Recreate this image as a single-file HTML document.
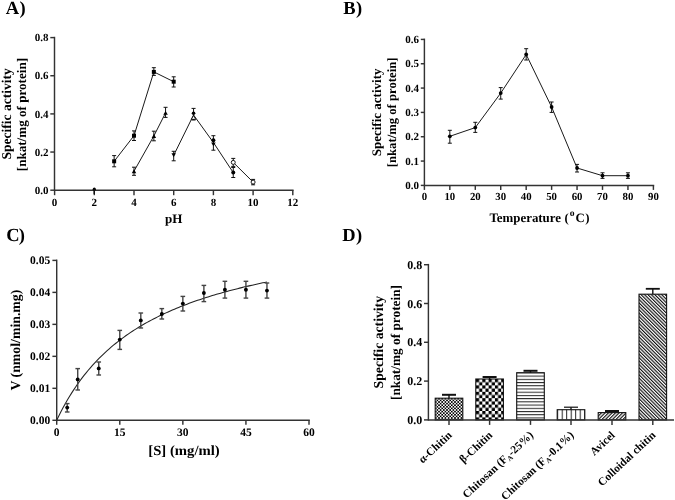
<!DOCTYPE html>
<html><head><meta charset="utf-8"><style>
html,body{margin:0;padding:0;background:#fff;}
svg{display:block;filter:grayscale(1);}
text{font-family:"Liberation Serif", serif;fill:#000;text-rendering:geometricPrecision;}
</style></head><body>
<svg width="675" height="500" viewBox="0 0 675 500">
<rect width="675" height="500" fill="#fff"/>
<defs>
<pattern id="p1" patternUnits="userSpaceOnUse" width="3.2" height="3.2" x="435" y="398"><rect width="3.2" height="3.2" fill="#fff"/><rect width="1.6" height="1.6" fill="#000"/><rect x="1.6" y="1.6" width="1.6" height="1.6" fill="#000"/></pattern>
<pattern id="p2" patternUnits="userSpaceOnUse" width="6.3" height="6.4" x="476" y="379"><rect width="6.3" height="6.4" fill="#fff"/><rect width="3.15" height="3.2" fill="#000"/><rect x="3.15" y="3.2" width="3.15" height="3.2" fill="#000"/></pattern>
<pattern id="p3" patternUnits="userSpaceOnUse" width="4" height="3.22" x="0" y="375.6"><rect width="4" height="3.22" fill="#fff"/><rect y="0" width="4" height="1" fill="#222"/></pattern>
<pattern id="p4" patternUnits="userSpaceOnUse" width="4.5" height="4" x="557.2" y="0"><rect width="4.5" height="4" fill="#fff"/><rect x="0" width="1" height="4" fill="#222"/></pattern>
<pattern id="p5" patternUnits="userSpaceOnUse" width="2.48" height="2.48" patternTransform="rotate(45)"><rect width="2.48" height="2.48" fill="#fff"/><rect width="1.15" height="2.48" fill="#111"/></pattern>
<pattern id="p6" patternUnits="userSpaceOnUse" width="2.42" height="2.42" patternTransform="rotate(-45)"><rect width="2.42" height="2.42" fill="#fff"/><rect width="1.15" height="2.42" fill="#111"/></pattern>
</defs>
<text x="5.8" y="13.9" font-size="18.5" font-weight="bold">A<tspan dx="0.3">)</tspan></text>
<text x="343.2" y="13.7" font-size="18.5" font-weight="bold">B<tspan dx="0.5">)</tspan></text>
<text x="6.2" y="241.2" font-size="18.5" font-weight="bold">C<tspan dx="-0.9">)</tspan></text>
<text x="342.2" y="240.8" font-size="18.5" font-weight="bold">D<tspan dx="0.4">)</tspan></text>
<line x1="54.50" y1="36.80" x2="54.50" y2="191.00" stroke="#333" stroke-width="1.45" />
<line x1="54.50" y1="190.20" x2="293.60" y2="190.20" stroke="#333" stroke-width="1.45" />
<line x1="54.60" y1="190.20" x2="54.60" y2="195.20" stroke="#333" stroke-width="1.45" />
<text x="54.60" y="206.20" font-size="11" text-anchor="middle" font-weight="bold" >0</text>
<line x1="94.30" y1="190.20" x2="94.30" y2="195.20" stroke="#333" stroke-width="1.45" />
<text x="94.30" y="206.20" font-size="11" text-anchor="middle" font-weight="bold" >2</text>
<line x1="134.00" y1="190.20" x2="134.00" y2="195.20" stroke="#333" stroke-width="1.45" />
<text x="134.00" y="206.20" font-size="11" text-anchor="middle" font-weight="bold" >4</text>
<line x1="173.70" y1="190.20" x2="173.70" y2="195.20" stroke="#333" stroke-width="1.45" />
<text x="173.70" y="206.20" font-size="11" text-anchor="middle" font-weight="bold" >6</text>
<line x1="213.40" y1="190.20" x2="213.40" y2="195.20" stroke="#333" stroke-width="1.45" />
<text x="213.40" y="206.20" font-size="11" text-anchor="middle" font-weight="bold" >8</text>
<line x1="253.10" y1="190.20" x2="253.10" y2="195.20" stroke="#333" stroke-width="1.45" />
<text x="253.10" y="206.20" font-size="11" text-anchor="middle" font-weight="bold" >10</text>
<line x1="292.80" y1="190.20" x2="292.80" y2="195.20" stroke="#333" stroke-width="1.45" />
<text x="292.80" y="206.20" font-size="11" text-anchor="middle" font-weight="bold" >12</text>
<line x1="50.30" y1="190.20" x2="54.50" y2="190.20" stroke="#333" stroke-width="1.45" />
<text x="48.50" y="193.90" font-size="11" text-anchor="end" font-weight="bold" >0.0</text>
<line x1="50.30" y1="152.05" x2="54.50" y2="152.05" stroke="#333" stroke-width="1.45" />
<text x="48.50" y="155.75" font-size="11" text-anchor="end" font-weight="bold" >0.2</text>
<line x1="50.30" y1="113.90" x2="54.50" y2="113.90" stroke="#333" stroke-width="1.45" />
<text x="48.50" y="117.60" font-size="11" text-anchor="end" font-weight="bold" >0.4</text>
<line x1="50.30" y1="75.75" x2="54.50" y2="75.75" stroke="#333" stroke-width="1.45" />
<text x="48.50" y="79.45" font-size="11" text-anchor="end" font-weight="bold" >0.6</text>
<line x1="50.30" y1="37.60" x2="54.50" y2="37.60" stroke="#333" stroke-width="1.45" />
<text x="48.50" y="41.30" font-size="11" text-anchor="end" font-weight="bold" >0.8</text>
<text x="173.70" y="222.60" font-size="13" text-anchor="middle" font-weight="bold" >pH</text>
<g transform="translate(10.9,113.9) scale(1.0,1) rotate(-90)"><text x="0" y="0" font-size="13.5" text-anchor="middle" font-weight="bold">Specific activity</text></g>
<g transform="translate(26.4,114.6) scale(1.0,1) rotate(-90)"><text x="0" y="0" font-size="13.1" text-anchor="middle" font-weight="bold">[nkat/mg of protein]</text></g>
<polyline fill="none" stroke="#1a1a1a" stroke-width="1" points="114.15,161.30 134.00,135.70 153.85,71.90 173.70,81.70"/>
<line x1="114.15" y1="155.60" x2="114.15" y2="166.80" stroke="#111" stroke-width="1" />
<line x1="112.15" y1="155.60" x2="116.15" y2="155.60" stroke="#111" stroke-width="1" />
<line x1="112.15" y1="166.80" x2="116.15" y2="166.80" stroke="#111" stroke-width="1" />
<rect x="112.15" y="159.30" width="4" height="4" fill="#000"/>
<line x1="134.00" y1="130.90" x2="134.00" y2="140.50" stroke="#111" stroke-width="1" />
<line x1="132.00" y1="130.90" x2="136.00" y2="130.90" stroke="#111" stroke-width="1" />
<line x1="132.00" y1="140.50" x2="136.00" y2="140.50" stroke="#111" stroke-width="1" />
<rect x="132.00" y="133.70" width="4" height="4" fill="#000"/>
<line x1="153.85" y1="67.70" x2="153.85" y2="75.40" stroke="#111" stroke-width="1" />
<line x1="151.85" y1="67.70" x2="155.85" y2="67.70" stroke="#111" stroke-width="1" />
<line x1="151.85" y1="75.40" x2="155.85" y2="75.40" stroke="#111" stroke-width="1" />
<rect x="151.85" y="69.90" width="4" height="4" fill="#000"/>
<line x1="173.70" y1="76.80" x2="173.70" y2="87.00" stroke="#111" stroke-width="1" />
<line x1="171.70" y1="76.80" x2="175.70" y2="76.80" stroke="#111" stroke-width="1" />
<line x1="171.70" y1="87.00" x2="175.70" y2="87.00" stroke="#111" stroke-width="1" />
<rect x="171.70" y="79.70" width="4" height="4" fill="#000"/>
<polyline fill="none" stroke="#1a1a1a" stroke-width="1" points="134.00,171.20 153.85,136.00 165.56,112.90"/>
<line x1="134.00" y1="167.20" x2="134.00" y2="175.30" stroke="#111" stroke-width="1" />
<line x1="132.00" y1="167.20" x2="136.00" y2="167.20" stroke="#111" stroke-width="1" />
<line x1="132.00" y1="175.30" x2="136.00" y2="175.30" stroke="#111" stroke-width="1" />
<polygon points="131.75,173.16 136.25,173.16 134.00,169.24" fill="#000" />
<line x1="153.85" y1="131.20" x2="153.85" y2="140.80" stroke="#111" stroke-width="1" />
<line x1="151.85" y1="131.20" x2="155.85" y2="131.20" stroke="#111" stroke-width="1" />
<line x1="151.85" y1="140.80" x2="155.85" y2="140.80" stroke="#111" stroke-width="1" />
<polygon points="151.60,137.96 156.10,137.96 153.85,134.04" fill="#000" />
<line x1="165.56" y1="107.30" x2="165.56" y2="117.40" stroke="#111" stroke-width="1" />
<line x1="163.56" y1="107.30" x2="167.56" y2="107.30" stroke="#111" stroke-width="1" />
<line x1="163.56" y1="117.40" x2="167.56" y2="117.40" stroke="#111" stroke-width="1" />
<polygon points="163.31,114.86 167.81,114.86 165.56,110.94" fill="#000" />
<polyline fill="none" stroke="#1a1a1a" stroke-width="1" points="173.70,155.30 193.55,115.00 213.40,142.50 233.25,172.60"/>
<line x1="173.70" y1="151.30" x2="173.70" y2="160.80" stroke="#111" stroke-width="1" />
<line x1="171.70" y1="151.30" x2="175.70" y2="151.30" stroke="#111" stroke-width="1" />
<line x1="171.70" y1="160.80" x2="175.70" y2="160.80" stroke="#111" stroke-width="1" />
<line x1="193.55" y1="108.40" x2="193.55" y2="120.00" stroke="#111" stroke-width="1" />
<line x1="191.55" y1="108.40" x2="195.55" y2="108.40" stroke="#111" stroke-width="1" />
<line x1="191.55" y1="120.00" x2="195.55" y2="120.00" stroke="#111" stroke-width="1" />
<line x1="213.40" y1="135.70" x2="213.40" y2="150.20" stroke="#111" stroke-width="1" />
<line x1="211.40" y1="135.70" x2="215.40" y2="135.70" stroke="#111" stroke-width="1" />
<line x1="211.40" y1="150.20" x2="215.40" y2="150.20" stroke="#111" stroke-width="1" />
<line x1="233.25" y1="167.50" x2="233.25" y2="177.50" stroke="#111" stroke-width="1" />
<line x1="231.25" y1="167.50" x2="235.25" y2="167.50" stroke="#111" stroke-width="1" />
<line x1="231.25" y1="177.50" x2="235.25" y2="177.50" stroke="#111" stroke-width="1" />
<polygon points="171.45,153.34 175.95,153.34 173.70,157.26" fill="#000" />
<circle cx="193.55" cy="113.20" r="1.8" fill="#000"/>
<polygon points="191.30,119.36 195.80,119.36 193.55,115.44" fill="#fff" stroke="#000" stroke-width="0.9"/>
<circle cx="213.40" cy="140.20" r="2" fill="#000"/>
<polygon points="211.15,142.44 215.65,142.44 213.40,146.36" fill="#000" />
<circle cx="233.25" cy="172.60" r="2" fill="#000"/>
<polyline fill="none" stroke="#1a1a1a" stroke-width="1" points="233.25,162.40 253.10,182.10"/>
<line x1="233.25" y1="158.40" x2="233.25" y2="166.40" stroke="#111" stroke-width="1" />
<line x1="231.25" y1="158.40" x2="235.25" y2="158.40" stroke="#111" stroke-width="1" />
<line x1="231.25" y1="166.40" x2="235.25" y2="166.40" stroke="#111" stroke-width="1" />
<circle cx="233.25" cy="162.40" r="2" fill="#fff" stroke="#000" stroke-width="0.9"/>
<line x1="253.10" y1="179.40" x2="253.10" y2="184.80" stroke="#111" stroke-width="1" />
<line x1="251.10" y1="179.40" x2="255.10" y2="179.40" stroke="#111" stroke-width="1" />
<line x1="251.10" y1="184.80" x2="255.10" y2="184.80" stroke="#111" stroke-width="1" />
<circle cx="253.10" cy="182.10" r="2" fill="#fff" stroke="#000" stroke-width="0.9"/>
<circle cx="94.30" cy="189.20" r="1.6" fill="#000"/>
<line x1="94.30" y1="189.20" x2="94.30" y2="194.00" stroke="#111" stroke-width="1.4" />
<line x1="424.40" y1="38.62" x2="424.40" y2="186.20" stroke="#333" stroke-width="1.45" />
<line x1="424.40" y1="185.40" x2="654.20" y2="185.40" stroke="#333" stroke-width="1.45" />
<line x1="424.40" y1="185.40" x2="424.40" y2="189.90" stroke="#333" stroke-width="1.45" />
<text x="424.40" y="200.30" font-size="10.8" text-anchor="middle" font-weight="bold" >0</text>
<line x1="449.84" y1="185.40" x2="449.84" y2="189.90" stroke="#333" stroke-width="1.45" />
<text x="449.84" y="200.30" font-size="10.8" text-anchor="middle" font-weight="bold" >10</text>
<line x1="475.29" y1="185.40" x2="475.29" y2="189.90" stroke="#333" stroke-width="1.45" />
<text x="475.29" y="200.30" font-size="10.8" text-anchor="middle" font-weight="bold" >20</text>
<line x1="500.73" y1="185.40" x2="500.73" y2="189.90" stroke="#333" stroke-width="1.45" />
<text x="500.73" y="200.30" font-size="10.8" text-anchor="middle" font-weight="bold" >30</text>
<line x1="526.18" y1="185.40" x2="526.18" y2="189.90" stroke="#333" stroke-width="1.45" />
<text x="526.18" y="200.30" font-size="10.8" text-anchor="middle" font-weight="bold" >40</text>
<line x1="551.62" y1="185.40" x2="551.62" y2="189.90" stroke="#333" stroke-width="1.45" />
<text x="551.62" y="200.30" font-size="10.8" text-anchor="middle" font-weight="bold" >50</text>
<line x1="577.06" y1="185.40" x2="577.06" y2="189.90" stroke="#333" stroke-width="1.45" />
<text x="577.06" y="200.30" font-size="10.8" text-anchor="middle" font-weight="bold" >60</text>
<line x1="602.51" y1="185.40" x2="602.51" y2="189.90" stroke="#333" stroke-width="1.45" />
<text x="602.51" y="200.30" font-size="10.8" text-anchor="middle" font-weight="bold" >70</text>
<line x1="627.95" y1="185.40" x2="627.95" y2="189.90" stroke="#333" stroke-width="1.45" />
<text x="627.95" y="200.30" font-size="10.8" text-anchor="middle" font-weight="bold" >80</text>
<line x1="653.40" y1="185.40" x2="653.40" y2="189.90" stroke="#333" stroke-width="1.45" />
<text x="653.40" y="200.30" font-size="10.8" text-anchor="middle" font-weight="bold" >90</text>
<line x1="420.80" y1="185.40" x2="424.40" y2="185.40" stroke="#333" stroke-width="1.45" />
<text x="418.90" y="189.00" font-size="11" text-anchor="end" font-weight="bold" >0.0</text>
<line x1="420.80" y1="161.07" x2="424.40" y2="161.07" stroke="#333" stroke-width="1.45" />
<text x="418.90" y="164.67" font-size="11" text-anchor="end" font-weight="bold" >0.1</text>
<line x1="420.80" y1="136.74" x2="424.40" y2="136.74" stroke="#333" stroke-width="1.45" />
<text x="418.90" y="140.34" font-size="11" text-anchor="end" font-weight="bold" >0.2</text>
<line x1="420.80" y1="112.41" x2="424.40" y2="112.41" stroke="#333" stroke-width="1.45" />
<text x="418.90" y="116.01" font-size="11" text-anchor="end" font-weight="bold" >0.3</text>
<line x1="420.80" y1="88.08" x2="424.40" y2="88.08" stroke="#333" stroke-width="1.45" />
<text x="418.90" y="91.68" font-size="11" text-anchor="end" font-weight="bold" >0.4</text>
<line x1="420.80" y1="63.75" x2="424.40" y2="63.75" stroke="#333" stroke-width="1.45" />
<text x="418.90" y="67.35" font-size="11" text-anchor="end" font-weight="bold" >0.5</text>
<line x1="420.80" y1="39.42" x2="424.40" y2="39.42" stroke="#333" stroke-width="1.45" />
<text x="418.90" y="43.02" font-size="11" text-anchor="end" font-weight="bold" >0.6</text>
<text x="489.4" y="222.2" font-size="12.9" font-weight="bold">Temperature</text>
<text x="564.6" y="222.4" font-size="12.8" font-weight="bold">(</text>
<text x="569.7" y="216.0" font-size="9.6" font-weight="bold">o</text>
<text x="575.6" y="222.2" font-size="12.8" font-weight="bold" letter-spacing="0.4">C)</text>
<g transform="translate(380.7,112.4) scale(1.0,1) rotate(-90)"><text x="0" y="0" font-size="13.0" text-anchor="middle" font-weight="bold">Specific activity</text></g>
<g transform="translate(396.2,112.4) scale(1.0,1) rotate(-90)"><text x="0" y="0" font-size="12.7" text-anchor="middle" font-weight="bold">[nkat/mg of protein]</text></g>
<polyline fill="none" stroke="#1a1a1a" stroke-width="1" points="449.84,136.30 475.29,127.60 500.73,93.10 526.18,54.50 551.62,107.00 577.06,168.00 602.51,175.70 627.95,175.70"/>
<line x1="449.84" y1="130.30" x2="449.84" y2="143.20" stroke="#111" stroke-width="1" />
<line x1="447.84" y1="130.30" x2="451.84" y2="130.30" stroke="#111" stroke-width="1" />
<line x1="447.84" y1="143.20" x2="451.84" y2="143.20" stroke="#111" stroke-width="1" />
<circle cx="449.84" cy="136.30" r="1.9" fill="#000"/>
<line x1="475.29" y1="122.30" x2="475.29" y2="132.40" stroke="#111" stroke-width="1" />
<line x1="473.29" y1="122.30" x2="477.29" y2="122.30" stroke="#111" stroke-width="1" />
<line x1="473.29" y1="132.40" x2="477.29" y2="132.40" stroke="#111" stroke-width="1" />
<circle cx="475.29" cy="127.60" r="1.9" fill="#000"/>
<line x1="500.73" y1="87.60" x2="500.73" y2="99.10" stroke="#111" stroke-width="1" />
<line x1="498.73" y1="87.60" x2="502.73" y2="87.60" stroke="#111" stroke-width="1" />
<line x1="498.73" y1="99.10" x2="502.73" y2="99.10" stroke="#111" stroke-width="1" />
<circle cx="500.73" cy="93.10" r="1.9" fill="#000"/>
<line x1="526.18" y1="48.70" x2="526.18" y2="60.00" stroke="#111" stroke-width="1" />
<line x1="524.18" y1="48.70" x2="528.18" y2="48.70" stroke="#111" stroke-width="1" />
<line x1="524.18" y1="60.00" x2="528.18" y2="60.00" stroke="#111" stroke-width="1" />
<circle cx="526.18" cy="54.50" r="1.9" fill="#000"/>
<line x1="551.62" y1="102.00" x2="551.62" y2="112.40" stroke="#111" stroke-width="1" />
<line x1="549.62" y1="102.00" x2="553.62" y2="102.00" stroke="#111" stroke-width="1" />
<line x1="549.62" y1="112.40" x2="553.62" y2="112.40" stroke="#111" stroke-width="1" />
<circle cx="551.62" cy="107.00" r="1.9" fill="#000"/>
<line x1="577.06" y1="164.40" x2="577.06" y2="172.00" stroke="#111" stroke-width="1" />
<line x1="575.06" y1="164.40" x2="579.06" y2="164.40" stroke="#111" stroke-width="1" />
<line x1="575.06" y1="172.00" x2="579.06" y2="172.00" stroke="#111" stroke-width="1" />
<circle cx="577.06" cy="168.00" r="1.9" fill="#000"/>
<line x1="602.51" y1="172.80" x2="602.51" y2="178.40" stroke="#111" stroke-width="1" />
<line x1="600.51" y1="172.80" x2="604.51" y2="172.80" stroke="#111" stroke-width="1" />
<line x1="600.51" y1="178.40" x2="604.51" y2="178.40" stroke="#111" stroke-width="1" />
<circle cx="602.51" cy="175.70" r="1.9" fill="#000"/>
<line x1="627.95" y1="172.80" x2="627.95" y2="178.40" stroke="#111" stroke-width="1" />
<line x1="625.95" y1="172.80" x2="629.95" y2="172.80" stroke="#111" stroke-width="1" />
<line x1="625.95" y1="178.40" x2="629.95" y2="178.40" stroke="#111" stroke-width="1" />
<circle cx="627.95" cy="175.70" r="1.9" fill="#000"/>
<line x1="56.70" y1="259.60" x2="56.70" y2="421.10" stroke="#333" stroke-width="1.45" />
<line x1="56.70" y1="420.30" x2="309.80" y2="420.30" stroke="#333" stroke-width="1.45" />
<line x1="56.70" y1="420.30" x2="56.70" y2="424.80" stroke="#333" stroke-width="1.45" />
<text x="56.70" y="436.30" font-size="11.5" text-anchor="middle" font-weight="bold" >0</text>
<line x1="119.78" y1="420.30" x2="119.78" y2="424.80" stroke="#333" stroke-width="1.45" />
<text x="119.78" y="436.30" font-size="11.5" text-anchor="middle" font-weight="bold" >15</text>
<line x1="182.85" y1="420.30" x2="182.85" y2="424.80" stroke="#333" stroke-width="1.45" />
<text x="182.85" y="436.30" font-size="11.5" text-anchor="middle" font-weight="bold" >30</text>
<line x1="245.93" y1="420.30" x2="245.93" y2="424.80" stroke="#333" stroke-width="1.45" />
<text x="245.93" y="436.30" font-size="11.5" text-anchor="middle" font-weight="bold" >45</text>
<line x1="309.00" y1="420.30" x2="309.00" y2="424.80" stroke="#333" stroke-width="1.45" />
<text x="309.00" y="436.30" font-size="11.5" text-anchor="middle" font-weight="bold" >60</text>
<line x1="52.40" y1="420.30" x2="56.70" y2="420.30" stroke="#333" stroke-width="1.45" />
<text x="50.20" y="424.20" font-size="11.5" text-anchor="end" font-weight="bold" >0.00</text>
<line x1="52.40" y1="388.32" x2="56.70" y2="388.32" stroke="#333" stroke-width="1.45" />
<text x="50.20" y="392.22" font-size="11.5" text-anchor="end" font-weight="bold" >0.01</text>
<line x1="52.40" y1="356.34" x2="56.70" y2="356.34" stroke="#333" stroke-width="1.45" />
<text x="50.20" y="360.24" font-size="11.5" text-anchor="end" font-weight="bold" >0.02</text>
<line x1="52.40" y1="324.36" x2="56.70" y2="324.36" stroke="#333" stroke-width="1.45" />
<text x="50.20" y="328.26" font-size="11.5" text-anchor="end" font-weight="bold" >0.03</text>
<line x1="52.40" y1="292.38" x2="56.70" y2="292.38" stroke="#333" stroke-width="1.45" />
<text x="50.20" y="296.28" font-size="11.5" text-anchor="end" font-weight="bold" >0.04</text>
<line x1="52.40" y1="260.40" x2="56.70" y2="260.40" stroke="#333" stroke-width="1.45" />
<text x="50.20" y="264.30" font-size="11.5" text-anchor="end" font-weight="bold" >0.05</text>
<g transform="translate(148.3,455.3) scale(1.05,1)"><text x="0" y="0" font-size="14" font-weight="bold">[S] (mg/ml)</text></g>
<g transform="translate(20.2,340.1) scale(1.0,1) rotate(-90)"><text x="0" y="0" font-size="13.8" text-anchor="middle" font-weight="bold">V (nmol/min.mg)</text></g>
<polyline fill="none" stroke="#222" stroke-width="1.05" points="56.70,420.30 58.80,415.95 60.91,411.79 63.01,407.80 65.11,403.97 67.21,400.30 69.31,396.76 71.42,393.37 73.52,390.10 75.62,386.95 77.72,383.92 79.83,380.99 81.93,378.17 84.03,375.44 86.14,372.81 88.24,370.26 90.34,367.79 92.44,365.41 94.55,363.10 96.65,360.86 98.75,358.69 100.85,356.59 102.96,354.55 105.06,352.57 107.16,350.65 109.26,348.78 111.37,346.96 113.47,345.20 115.57,343.48 117.67,341.81 119.78,340.18 121.88,338.60 123.98,337.05 126.08,335.55 128.19,334.08 130.29,332.65 132.39,331.26 134.49,329.90 136.59,328.57 138.70,327.28 140.80,326.01 142.90,324.78 145.00,323.57 147.11,322.39 149.21,321.23 151.31,320.11 153.42,319.00 155.52,317.92 157.62,316.87 159.72,315.83 161.82,314.82 163.93,313.83 166.03,312.86 168.13,311.91 170.24,310.97 172.34,310.06 174.44,309.17 176.54,308.29 178.65,307.43 180.75,306.58 182.85,305.76 184.95,304.94 187.06,304.15 189.16,303.36 191.26,302.59 193.36,301.84 195.47,301.10 197.57,300.37 199.67,299.66 201.77,298.96 203.88,298.27 205.98,297.59 208.08,296.92 210.18,296.27 212.29,295.62 214.39,294.99 216.49,294.36 218.59,293.75 220.69,293.15 222.80,292.56 224.90,291.97 227.00,291.40 229.11,290.83 231.21,290.27 233.31,289.73 235.41,289.19 237.51,288.66 239.62,288.13 241.72,287.62 243.82,287.11 245.93,286.61 248.03,286.12 250.13,285.63 252.23,285.15 254.33,284.68 256.44,284.21 258.54,283.76 260.64,283.30 262.75,282.86 264.85,282.42 266.95,281.98"/>
<line x1="67.21" y1="403.60" x2="67.21" y2="412.00" stroke="#444" stroke-width="1.4" />
<line x1="64.91" y1="403.60" x2="69.51" y2="403.60" stroke="#444" stroke-width="1.4" />
<line x1="64.91" y1="412.00" x2="69.51" y2="412.00" stroke="#444" stroke-width="1.4" />
<circle cx="67.21" cy="407.60" r="1.95" fill="#000"/>
<line x1="77.72" y1="368.60" x2="77.72" y2="390.00" stroke="#444" stroke-width="1.4" />
<line x1="75.42" y1="368.60" x2="80.02" y2="368.60" stroke="#444" stroke-width="1.4" />
<line x1="75.42" y1="390.00" x2="80.02" y2="390.00" stroke="#444" stroke-width="1.4" />
<circle cx="77.72" cy="379.40" r="1.95" fill="#000"/>
<line x1="98.75" y1="362.00" x2="98.75" y2="375.00" stroke="#444" stroke-width="1.4" />
<line x1="96.45" y1="362.00" x2="101.05" y2="362.00" stroke="#444" stroke-width="1.4" />
<line x1="96.45" y1="375.00" x2="101.05" y2="375.00" stroke="#444" stroke-width="1.4" />
<circle cx="98.75" cy="368.40" r="1.95" fill="#000"/>
<line x1="119.78" y1="330.40" x2="119.78" y2="349.40" stroke="#444" stroke-width="1.4" />
<line x1="117.48" y1="330.40" x2="122.08" y2="330.40" stroke="#444" stroke-width="1.4" />
<line x1="117.48" y1="349.40" x2="122.08" y2="349.40" stroke="#444" stroke-width="1.4" />
<circle cx="119.78" cy="339.60" r="1.95" fill="#000"/>
<line x1="140.80" y1="313.00" x2="140.80" y2="328.00" stroke="#444" stroke-width="1.4" />
<line x1="138.50" y1="313.00" x2="143.10" y2="313.00" stroke="#444" stroke-width="1.4" />
<line x1="138.50" y1="328.00" x2="143.10" y2="328.00" stroke="#444" stroke-width="1.4" />
<circle cx="140.80" cy="320.40" r="1.95" fill="#000"/>
<line x1="161.82" y1="308.60" x2="161.82" y2="319.00" stroke="#444" stroke-width="1.4" />
<line x1="159.52" y1="308.60" x2="164.12" y2="308.60" stroke="#444" stroke-width="1.4" />
<line x1="159.52" y1="319.00" x2="164.12" y2="319.00" stroke="#444" stroke-width="1.4" />
<circle cx="161.82" cy="314.00" r="1.95" fill="#000"/>
<line x1="182.85" y1="296.40" x2="182.85" y2="311.00" stroke="#444" stroke-width="1.4" />
<line x1="180.55" y1="296.40" x2="185.15" y2="296.40" stroke="#444" stroke-width="1.4" />
<line x1="180.55" y1="311.00" x2="185.15" y2="311.00" stroke="#444" stroke-width="1.4" />
<circle cx="182.85" cy="303.60" r="1.95" fill="#000"/>
<line x1="203.88" y1="285.40" x2="203.88" y2="301.60" stroke="#444" stroke-width="1.4" />
<line x1="201.57" y1="285.40" x2="206.18" y2="285.40" stroke="#444" stroke-width="1.4" />
<line x1="201.57" y1="301.60" x2="206.18" y2="301.60" stroke="#444" stroke-width="1.4" />
<circle cx="203.88" cy="293.00" r="1.95" fill="#000"/>
<line x1="224.90" y1="281.30" x2="224.90" y2="298.10" stroke="#444" stroke-width="1.4" />
<line x1="222.60" y1="281.30" x2="227.20" y2="281.30" stroke="#444" stroke-width="1.4" />
<line x1="222.60" y1="298.10" x2="227.20" y2="298.10" stroke="#444" stroke-width="1.4" />
<circle cx="224.90" cy="289.70" r="1.95" fill="#000"/>
<line x1="245.93" y1="281.30" x2="245.93" y2="298.10" stroke="#444" stroke-width="1.4" />
<line x1="243.62" y1="281.30" x2="248.23" y2="281.30" stroke="#444" stroke-width="1.4" />
<line x1="243.62" y1="298.10" x2="248.23" y2="298.10" stroke="#444" stroke-width="1.4" />
<circle cx="245.93" cy="289.70" r="1.95" fill="#000"/>
<line x1="266.95" y1="283.00" x2="266.95" y2="298.10" stroke="#444" stroke-width="1.4" />
<line x1="264.65" y1="283.00" x2="269.25" y2="283.00" stroke="#444" stroke-width="1.4" />
<line x1="264.65" y1="298.10" x2="269.25" y2="298.10" stroke="#444" stroke-width="1.4" />
<circle cx="266.95" cy="290.60" r="1.95" fill="#000"/>
<rect x="435.20" y="398.20" width="27.6" height="21.70" fill="url(#p1)" stroke="#111" stroke-width="1.1"/>
<line x1="449.00" y1="394.80" x2="449.00" y2="398.20" stroke="#111" stroke-width="1.4" />
<line x1="442.00" y1="394.80" x2="456.00" y2="394.80" stroke="#111" stroke-width="2" />
<rect x="475.80" y="379.00" width="27.6" height="40.90" fill="url(#p2)" stroke="#111" stroke-width="1.1"/>
<line x1="489.60" y1="377.00" x2="489.60" y2="379.00" stroke="#111" stroke-width="1.4" />
<line x1="482.60" y1="377.00" x2="496.60" y2="377.00" stroke="#111" stroke-width="2" />
<rect x="516.70" y="372.70" width="27.6" height="47.20" fill="url(#p3)" stroke="#111" stroke-width="1.1"/>
<line x1="530.50" y1="370.80" x2="530.50" y2="372.70" stroke="#111" stroke-width="1.4" />
<line x1="523.50" y1="370.80" x2="537.50" y2="370.80" stroke="#111" stroke-width="2" />
<rect x="557.20" y="409.70" width="27.6" height="10.20" fill="url(#p4)" stroke="#111" stroke-width="1.1"/>
<line x1="571.00" y1="407.20" x2="571.00" y2="409.70" stroke="#111" stroke-width="1.4" />
<line x1="564.00" y1="407.20" x2="578.00" y2="407.20" stroke="#111" stroke-width="1.2" />
<rect x="598.20" y="412.60" width="27.6" height="7.30" fill="url(#p5)" stroke="#111" stroke-width="1.1"/>
<line x1="612.00" y1="411.00" x2="612.00" y2="412.60" stroke="#111" stroke-width="1.4" />
<line x1="605.00" y1="411.00" x2="619.00" y2="411.00" stroke="#111" stroke-width="2" />
<rect x="639.00" y="294.20" width="27.6" height="125.70" fill="url(#p6)" stroke="#111" stroke-width="1.1"/>
<line x1="652.80" y1="288.80" x2="652.80" y2="294.20" stroke="#111" stroke-width="1.4" />
<line x1="645.80" y1="288.80" x2="659.80" y2="288.80" stroke="#111" stroke-width="1.8" />
<line x1="428.40" y1="263.90" x2="428.40" y2="420.70" stroke="#333" stroke-width="1.45" />
<line x1="428.40" y1="419.90" x2="674.00" y2="419.90" stroke="#333" stroke-width="1.45" />
<line x1="449.00" y1="419.90" x2="449.00" y2="424.90" stroke="#333" stroke-width="1.45" />
<line x1="489.60" y1="419.90" x2="489.60" y2="424.90" stroke="#333" stroke-width="1.45" />
<line x1="530.50" y1="419.90" x2="530.50" y2="424.90" stroke="#333" stroke-width="1.45" />
<line x1="571.00" y1="419.90" x2="571.00" y2="424.90" stroke="#333" stroke-width="1.45" />
<line x1="612.00" y1="419.90" x2="612.00" y2="424.90" stroke="#333" stroke-width="1.45" />
<line x1="652.80" y1="419.90" x2="652.80" y2="424.90" stroke="#333" stroke-width="1.45" />
<line x1="424.00" y1="419.90" x2="428.40" y2="419.90" stroke="#333" stroke-width="1.45" />
<text x="422.20" y="423.90" font-size="12" text-anchor="end" font-weight="bold" >0.0</text>
<line x1="424.00" y1="381.10" x2="428.40" y2="381.10" stroke="#333" stroke-width="1.45" />
<text x="422.20" y="385.10" font-size="12" text-anchor="end" font-weight="bold" >0.2</text>
<line x1="424.00" y1="342.30" x2="428.40" y2="342.30" stroke="#333" stroke-width="1.45" />
<text x="422.20" y="346.30" font-size="12" text-anchor="end" font-weight="bold" >0.4</text>
<line x1="424.00" y1="303.50" x2="428.40" y2="303.50" stroke="#333" stroke-width="1.45" />
<text x="422.20" y="307.50" font-size="12" text-anchor="end" font-weight="bold" >0.6</text>
<line x1="424.00" y1="264.70" x2="428.40" y2="264.70" stroke="#333" stroke-width="1.45" />
<text x="422.20" y="268.70" font-size="12" text-anchor="end" font-weight="bold" >0.8</text>
<g transform="translate(383.3,342.2) scale(1.0,1) rotate(-90)"><text x="0" y="0" font-size="13.7" text-anchor="middle" font-weight="bold">Specific activity</text></g>
<g transform="translate(400.4,342.5) scale(1.0,1) rotate(-90)"><text x="0" y="0" font-size="13.3" text-anchor="middle" font-weight="bold">[nkat/mg of protein]</text></g>
<g transform="translate(452.60,436.00) rotate(-43)"><text x="0" y="0" font-size="11.3" text-anchor="end" font-weight="bold">α-Chitin</text></g>
<g transform="translate(493.20,436.00) rotate(-43)"><text x="0" y="0" font-size="11.3" text-anchor="end" font-weight="bold">β-Chitin</text></g>
<g transform="translate(534.10,436.00) rotate(-43)"><text x="0" y="0" font-size="11.3" text-anchor="end" font-weight="bold">Chitosan (F<tspan font-size="7" dy="2">A</tspan><tspan dy="-2">-25%)</tspan></text></g>
<g transform="translate(574.60,436.00) rotate(-43)"><text x="0" y="0" font-size="11.3" text-anchor="end" font-weight="bold">Chitosan (F<tspan font-size="7" dy="2">A</tspan><tspan dy="-2">-0.1%)</tspan></text></g>
<g transform="translate(615.60,436.00) rotate(-43)"><text x="0" y="0" font-size="11.3" text-anchor="end" font-weight="bold">Avicel</text></g>
<g transform="translate(656.40,436.00) rotate(-43)"><text x="0" y="0" font-size="11.3" text-anchor="end" font-weight="bold">Colloidal chitin</text></g>
</svg></body></html>
